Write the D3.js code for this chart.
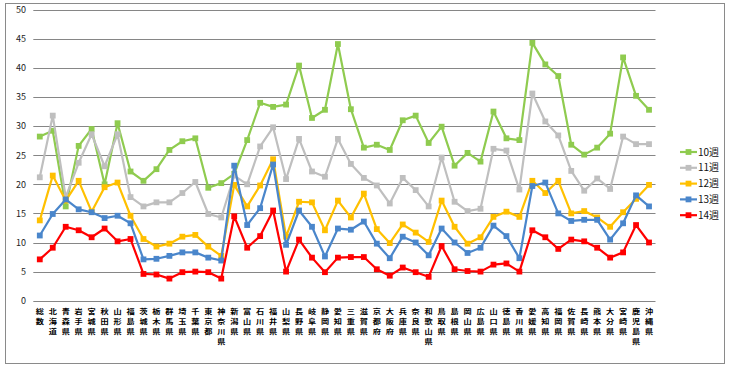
<!DOCTYPE html>
<html><head><meta charset="utf-8">
<script src="https://cdn.jsdelivr.net/npm/d3@7"></script>
<style>body{margin:0;background:#fff;}svg{display:block;}</style>
</head><body>
<svg id="c" width="730" height="373"></svg>
<script>
const categories = ["総数","北海道","青森県","岩手県","宮城県","秋田県","山形県","福島県","茨城県","栃木県","群馬県","埼玉県","千葉県","東京都","神奈川県","新潟県","富山県","石川県","福井県","山梨県","長野県","岐阜県","静岡県","愛知県","三重県","滋賀県","京都府","大阪府","兵庫県","奈良県","和歌山県","鳥取県","島根県","岡山県","広島県","山口県","徳島県","香川県","愛媛県","高知県","福岡県","佐賀県","長崎県","熊本県","大分県","宮崎県","鹿児島県","沖縄県"];
const seriesNames = ["10週","11週","12週","13週","14週"];
const w10 = [28.2,29.2,16.2,26.6,29.5,20.0,30.5,22.2, 20.6,22.6,25.9,27.4,27.9,19.4,20.2,21.8, 27.6,34.0,33.3,33.7,40.4,31.4,32.8,44.1, 32.9,26.3,26.8,25.9,31.0,31.8,27.1,29.9, 23.2,25.4,23.9,32.5,27.9,27.6,44.3,40.6, 38.6,26.8,25.1,26.3,28.7,41.8,35.2,32.8];
const w11 = [21.2,31.8,17.8,23.7,28.6,23.1,28.6,17.8, 16.2,16.9,16.9,18.5,20.4,14.9,14.3,21.5, 20.0,26.5,29.8,20.9,27.8,22.2,21.3,27.8, 23.5,21.1,19.8,16.7,21.1,19.0,16.2,24.6, 17.0,15.4,15.8,26.1,25.8,19.1,35.6,30.8, 28.4,22.3,18.9,21.0,19.2,28.2,26.9,26.9];
const w12 = [13.8,21.5,17.2,20.6,15.3,19.5,20.3,14.6, 10.6,9.3,9.8,11.0,11.3,9.3,7.7,19.9, 16.2,19.8,24.3,11.0,17.0,16.9,12.1,17.2, 14.3,18.4,12.3,9.9,13.1,11.7,10.1,17.2, 12.7,9.8,10.9,14.4,15.3,14.4,20.6,18.5, 20.6,15.0,15.4,14.3,12.7,15.2,17.5,19.9];
const w13 = [11.2,14.9,17.4,15.7,15.2,14.2,14.6,13.3, 7.1,7.2,7.7,8.3,8.3,7.4,6.9,23.2, 13.0,15.9,23.4,9.6,15.5,12.7,7.6,12.4, 12.2,13.6,9.8,7.3,11.0,10.0,7.8,12.4, 10.0,8.2,9.1,12.9,11.1,7.3,19.7,20.3, 15.0,13.7,13.9,13.9,10.5,13.3,18.1,16.2];
const w14 = [7.1,9.1,12.7,12.1,10.9,12.4,10.2,10.6, 4.6,4.5,3.8,4.9,5.0,4.9,3.8,14.5, 9.1,11.1,15.5,5.0,10.5,7.4,4.9,7.4, 7.5,7.5,5.4,4.3,5.7,4.9,4.1,9.4, 5.4,5.1,5.0,6.2,6.4,5.0,12.1,10.9, 8.9,10.5,10.2,9.1,7.4,8.3,13.0,10.0];
const yTicks = [0,5,10,15,20,25,30,35,40,45,50];
const colors = ["#8FCB4F","#BFBFBF","#FFC000","#4A86CB","#FF0000"];

const series = [w10,w11,w12,w13,w14].map((v,k)=>({name:seriesNames[k], values:v, color:colors[k]}));

const svg = d3.select("#c");
const font = "'Noto Sans CJK JP', 'DejaVu Sans', sans-serif";
svg.append("rect").attr("x",5.5).attr("y",3.5).attr("width",719).attr("height",360)
  .attr("fill","#fff").attr("stroke","#8a8a8a").attr("stroke-width",1);

const x = d3.scaleBand().domain(categories).range([33.3,655.5]).padding(0);
const y = d3.scaleLinear().domain([0,50]).range([300.7,9.7]);
const cx = d => x(d) + x.bandwidth()/2;

svg.append("g").selectAll("line").data(yTicks).join("line")
  .attr("x1",33.3).attr("x2",655.5)
  .attr("y1",d=>Math.round(y(d))+0.5).attr("y2",d=>Math.round(y(d))+0.5)
  .attr("stroke","#868686").attr("stroke-width",1);

const yAxis = d3.axisLeft(y).tickValues(yTicks).tickSize(0).tickPadding(0);
const ya = svg.append("g").attr("transform","translate(26,0)").call(yAxis);
ya.select(".domain").remove();
ya.selectAll("text").attr("font-family",font).attr("font-size","9px").attr("fill","#222");

// category labels: one character per text element, stacked vertically
const chars = [];
categories.forEach(c => Array.from(c).forEach((ch,i)=>chars.push({cat:c, ch, i})));
svg.append("g").selectAll("text").data(chars).join("text")
  .attr("font-family",font).attr("font-size","6.8px").attr("fill","#000")
  .attr("font-weight","bold")
  .attr("text-anchor","middle")
  .attr("transform",d=>`translate(${cx(d.cat)},${314 + d.i*9.9}) scale(1.2,1)`)
  .text(d=>d.ch);

const line = d3.line().x((v,i)=>cx(categories[i])).y(v=>y(v));
series.forEach(s=>{
  const g = svg.append("g");
  g.append("path").attr("d",line(s.values)).attr("fill","none")
    .attr("stroke",s.color).attr("stroke-width",2.2).attr("stroke-linejoin","round");
  g.selectAll("rect").data(s.values).join("rect")
    .attr("x",(v,i)=>cx(categories[i])-2.9).attr("y",v=>y(v)-2.9)
    .attr("width",5.8).attr("height",5.8).attr("fill",s.color);
});

const lg = svg.append("g").selectAll("g").data(series).join("g")
  .attr("transform",(d,i)=>`translate(0,${152 + i*15.8})`);
lg.append("line").attr("x1",680).attr("x2",697).attr("y1",0).attr("y2",0)
  .attr("stroke",d=>d.color).attr("stroke-width",2.2);
lg.append("rect").attr("x",685.6).attr("y",-2.9).attr("width",5.8).attr("height",5.8).attr("fill",d=>d.color);
lg.append("text").attr("x",698).attr("y",3.5).attr("font-family",font).attr("font-size","10px")
  .attr("fill","#111").text(d=>d.name);
</script>
</body></html>
